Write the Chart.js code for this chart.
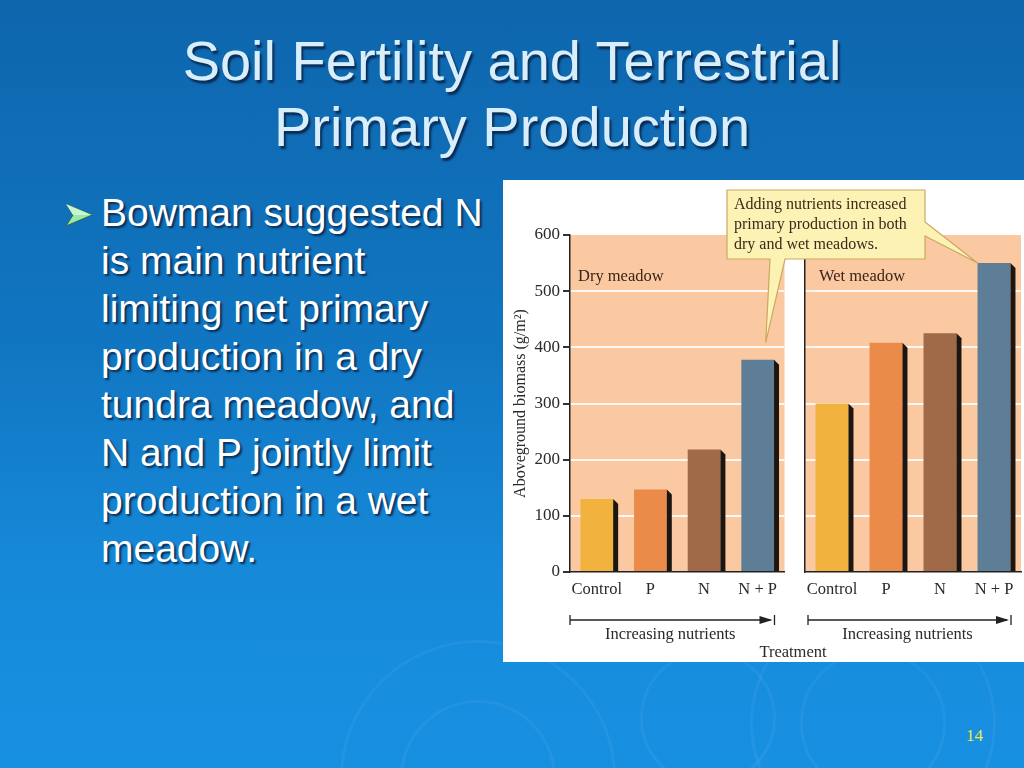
<!DOCTYPE html>
<html>
<head>
<meta charset="utf-8">
<script src="https://cdn.jsdelivr.net/npm/chart.js@4.4.0/dist/chart.umd.min.js"></script>
<style>
  body { margin: 0; width: 1024px; height: 768px; overflow: hidden; position: relative;
         background: linear-gradient(#0e66ad 0%, #1176c2 45%, #168ad9 75%, #1890e2 100%);
         font-family: 'Liberation Sans', Arial, sans-serif; }
  .ring { position: absolute; border-radius: 50%; border: 3px solid rgba(255,255,255,0.05); }
  #title { position: absolute; left: 0; top: 28px; width: 1024px; text-align: center;
           color: #d8eefb; font-size: 56px; line-height: 66px; text-shadow: 2px 3px 2px #0a2c55; }
  #bullet { position: absolute; left: 101px; top: 189px; white-space: nowrap; color: #ffffff;
            font-size: 39px; line-height: 48px; text-shadow: 2px 2px 2px #0a2c55; }
  #mark { position: absolute; left: 64px; top: 202px; }
  #panel { position: absolute; left: 503px; top: 180px; width: 521px; height: 482px; background: #fff; }
  .cv { position: absolute; top: 180px; }
  #treat { position: absolute; left: 740px; top: 642px; width: 106px; text-align: center;
           font-family: 'Liberation Serif', serif; font-size: 16.5px; color: #2a2a2a; }
  #page { position: absolute; left: 966px; top: 726px; font-family: 'Liberation Serif', serif;
          font-size: 17px; color: #e8ea4a; }
</style>
</head>
<body>
<div class="ring" style="left:340px;top:640px;width:270px;height:270px"></div>
<div class="ring" style="left:400px;top:700px;width:150px;height:150px"></div>
<div class="ring" style="left:640px;top:650px;width:130px;height:130px"></div>
<div class="ring" style="left:750px;top:600px;width:240px;height:240px"></div>
<div class="ring" style="left:800px;top:650px;width:140px;height:140px"></div>

<div id="title">Soil Fertility and Terrestrial<br>Primary Production</div>
<svg id="mark" width="30" height="26" viewBox="0 0 30 26">
  <polygon points="2,2 28,13 2,24 9,13" fill="#9be8a8" stroke="#2c6a48" stroke-width="1"/>
  <polygon points="2,2 28,13 9,13" fill="#c8f5cf"/>
</svg>
<div id="bullet">Bowman suggested N<br>is main nutrient<br>limiting net primary<br>production in a dry<br>tundra meadow, and<br>N and P jointly limit<br>production in a wet<br>meadow.</div>

<div id="panel"></div>
<canvas id="dry" class="cv" style="left:503px;width:282px;height:482px" width="282" height="482"></canvas>
<canvas id="wet" class="cv" style="left:785px;width:239px;height:482px" width="239" height="482"></canvas>
<canvas id="note" class="cv" style="left:503px;width:521px;height:482px;pointer-events:none" width="521" height="482"></canvas>
<div id="treat">Treatment</div>
<div id="page">14</div>

<script>
// data
const treatments = ['Control', 'P', 'N', 'N + P'];
const dryMeadow = [130, 147, 218, 378];
const wetMeadow = [300, 408, 425, 550];
const barColors = ['#f1b23e', '#ea8b4a', '#a06a49', '#5d7e96'];
const yTicks = [0, 100, 200, 300, 400, 500, 600];

const serif = 'Liberation Serif';

// peach plot background
const backdrop = {
  id: 'backdrop',
  beforeDraw(chart) {
    const a = chart.chartArea, ctx = chart.ctx;
    ctx.save();
    ctx.fillStyle = '#fbc9a1';
    ctx.fillRect(a.left, a.top, a.right - a.left, a.bottom - a.top);
    ctx.restore();
  }
};

// dark side face on each bar
const barShade = {
  id: 'barShade',
  afterDatasetsDraw(chart) {
    const ctx = chart.ctx;
    ctx.save();
    chart.getDatasetMeta(0).data.forEach(bar => {
      const r = bar.x + bar.width / 2;
      ctx.fillStyle = '#1c1510';
      ctx.beginPath();
      ctx.moveTo(r, bar.y);
      ctx.lineTo(r + 5, bar.y + 5);
      ctx.lineTo(r + 5, bar.base);
      ctx.lineTo(r, bar.base);
      ctx.closePath();
      ctx.fill();
    });
    ctx.restore();
  }
};

// panel name and "Increasing nutrients" arrow
const extras = {
  id: 'extras',
  afterDraw(chart, args, opts) {
    const a = chart.chartArea, ctx = chart.ctx;
    ctx.save();
    ctx.fillStyle = '#3a2418';
    ctx.font = '16.5px ' + serif;
    ctx.textBaseline = 'middle';
    ctx.fillText(opts.name, a.left + opts.nameDx, a.top + 42);

    const y = a.bottom + 48, x0 = a.left + opts.arrowDx, x1 = a.right - 14;
    ctx.strokeStyle = '#222';
    ctx.lineWidth = 1.3;
    ctx.beginPath();
    ctx.moveTo(x0, y); ctx.lineTo(x1, y);
    ctx.moveTo(x0, y - 5); ctx.lineTo(x0, y + 5);
    ctx.moveTo(x1 + 4, y - 5); ctx.lineTo(x1 + 4, y + 5);
    ctx.stroke();
    ctx.fillStyle = '#222';
    ctx.beginPath();
    ctx.moveTo(x1 + 2, y); ctx.lineTo(x1 - 11, y - 4); ctx.lineTo(x1 - 11, y + 4);
    ctx.closePath(); ctx.fill();

    ctx.fillStyle = '#2a2a2a';
    ctx.textAlign = 'center';
    ctx.fillText('Increasing nutrients', (x0 + x1) / 2, y + 15);
    ctx.restore();
  }
};

function makeChart(id, values, opts) {
  return new Chart(document.getElementById(id), {
    type: 'bar',
    data: {
      labels: treatments,
      datasets: [{ data: values, backgroundColor: barColors, borderWidth: 0,
                   barPercentage: 0.61, categoryPercentage: 1 }]
    },
    options: {
      responsive: false,
      animation: false,
      layout: { padding: { top: 55, right: opts.padRight, bottom: 60, left: 0 } },
      plugins: { legend: { display: false }, tooltip: { enabled: false },
                 extras: opts.extras },
      scales: {
        x: {
          grid: { display: false, drawTicks: false },
          border: { display: true, color: '#222', width: 1.5 },
          ticks: { color: '#2a2a2a', padding: 8, autoSkip: false, maxRotation: 0, minRotation: 0,
                   font: { family: serif, size: 16.5 } },
          afterFit: s => { s.height = 30; }
        },
        y: {
          min: 0, max: 600,
          afterBuildTicks: s => { s.ticks = yTicks.map(v => ({ value: v })); },
          grid: {
            color: c => (c.tick && c.tick.value > 0 && c.tick.value < 600) ? 'rgba(255,255,255,0.85)' : 'rgba(0,0,0,0)',
            lineWidth: 2,
            drawTicks: opts.showTicks,
            tickLength: 7,
            tickColor: '#333'
          },
          border: { display: true, color: '#222', width: 1.5 },
          ticks: { display: opts.showTicks, color: '#2a2a2a', padding: 3, font: { family: serif, size: 17 } },
          title: { display: opts.showTicks, text: 'Aboveground biomass (g/m\u00B2)', color: '#2a2a2a',
                   padding: { top: 8, bottom: 0 }, font: { family: serif, size: 16 } },
          afterFit: s => { s.width = opts.yWidth; }
        }
      }
    },
    plugins: [backdrop, barShade, extras]
  });
}

const dry = makeChart('dry', dryMeadow, {
  padRight: 0, yWidth: 67, showTicks: true,
  extras: { name: 'Dry meadow', nameDx: 8, arrowDx: 0 }
});
const wet = makeChart('wet', wetMeadow, {
  padRight: 3, yWidth: 20, showTicks: false,
  extras: { name: 'Wet meadow', nameDx: 14, arrowDx: 3 }
});

// callout linking both N + P bars
(function callout() {
  const ctx = document.getElementById('note').getContext('2d');
  const dBar = dry.getDatasetMeta(0).data[3];
  const wBar = wet.getDatasetMeta(0).data[3];
  const dTip = { x: dBar.x + 8, y: dBar.y - 17 };
  const wTip = { x: 282 + wBar.x - wBar.width / 2, y: wBar.y };
  const bx = 224, by = 10, bw = 198, bh = 69;

  ctx.fillStyle = '#fcf2b3';
  ctx.strokeStyle = '#c9a862';
  ctx.lineWidth = 1.2;
  ctx.beginPath();
  ctx.moveTo(bx, by);
  ctx.lineTo(bx + bw, by);
  ctx.lineTo(bx + bw, by + 32);
  ctx.lineTo(wTip.x, wTip.y);
  ctx.lineTo(bx + bw, by + 46);
  ctx.lineTo(bx + bw, by + bh);
  ctx.lineTo(bx + 58, by + bh);
  ctx.lineTo(dTip.x, dTip.y);
  ctx.lineTo(bx + 43, by + bh);
  ctx.lineTo(bx, by + bh);
  ctx.closePath();
  ctx.fill();
  ctx.stroke();

  ctx.fillStyle = '#3a2a1c';
  ctx.font = '16px ' + serif;
  ctx.textBaseline = 'middle';
  ['Adding nutrients increased', 'primary production in both', 'dry and wet meadows.']
    .forEach((t, i) => ctx.fillText(t, bx + 7, by + 15 + i * 20));
})();
</script>
</body>
</html>
